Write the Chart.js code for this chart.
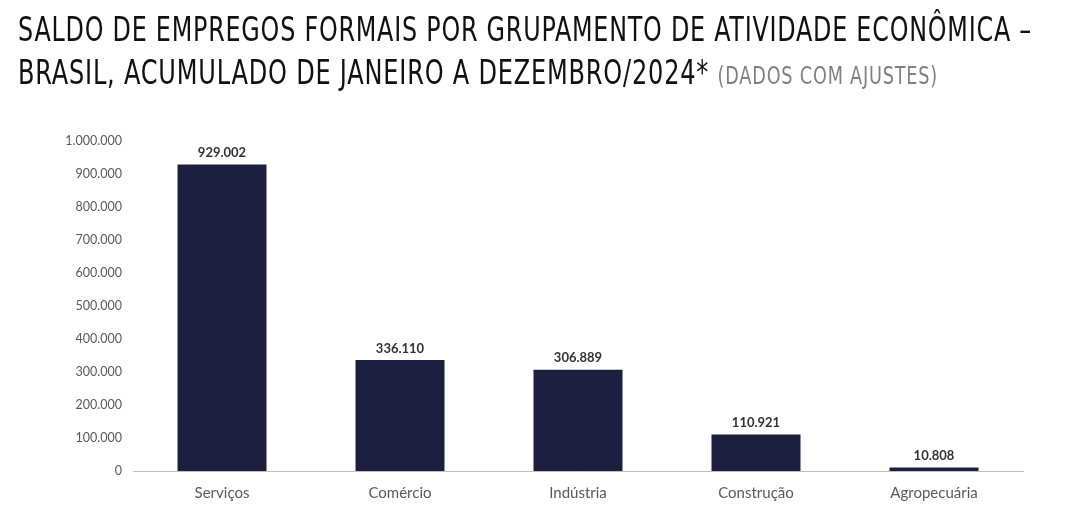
<!DOCTYPE html>
<html><head><meta charset="utf-8">
<script src="https://cdn.jsdelivr.net/npm/chart.js@4"></script>
<style>
html,body{margin:0;padding:0;background:#fff;width:1085px;height:517px;overflow:hidden}
.tl{position:absolute;left:18px;font-family:"DejaVu Sans Condensed","DejaVu Sans",sans-serif;font-size:34px;line-height:34px;color:#111;letter-spacing:1px;white-space:nowrap;transform-origin:0 0}
#t1{top:12px}
#t2{top:55px}
.sub{color:#808080;font-size:25px;letter-spacing:1px}
#wrap{position:absolute;left:0;top:0;width:1085px;height:517px}
</style></head><body>
<div id="wrap"><canvas id="c" width="1085" height="517"></canvas></div>
<div class="tl" id="t1">SALDO DE EMPREGOS FORMAIS POR GRUPAMENTO DE ATIVIDADE ECONÔMICA –</div>
<div class="tl" id="t2">BRASIL, ACUMULADO DE JANEIRO A DEZEMBRO/2024* <span class="sub">(DADOS COM AJUSTES)</span></div>
<script>
const categories = ["Serviços","Comércio","Indústria","Construção","Agropecuária"];
const saldo = [929002, 336110, 306889, 110921, 10808];
const yTicks = [0,100000,200000,300000,400000,500000,600000,700000,800000,900000,1000000];

function fitLine(id, target){
  const el=document.getElementById(id);
  const w=el.getBoundingClientRect().width;
  el.style.transform='scaleX('+(target/w)+')';
}
fitLine('t1',1014);
fitLine('t2',920);

const fmt = v => v.toLocaleString('de-DE');
const labelPlugin = {
  id:'vals',
  afterDatasetsDraw(chart){
    const ctx = chart.ctx;
    const meta = chart.getDatasetMeta(0);
    ctx.save();
    ctx.font = 'bold 13px Lato, sans-serif';
    ctx.fillStyle = '#333';
    ctx.textAlign = 'center';
    ctx.textBaseline = 'bottom';
    meta.data.forEach((bar,i)=>{
      ctx.fillText(fmt(saldo[i]), bar.x, bar.y - 5);
    });
    ctx.restore();
  }
};
new Chart(document.getElementById('c'),{
  type:'bar',
  data:{labels:categories,datasets:[{data:saldo,backgroundColor:'#1d1f40',categoryPercentage:1,barPercentage:0.5}]},
  options:{
    responsive:false,animation:false,
    layout:{padding:{top:141,right:62,left:0,bottom:0}},
    plugins:{legend:{display:false},tooltip:{enabled:false}},
    scales:{
      x:{grid:{display:false,drawTicks:false},border:{display:true,color:'#bfbfbf',width:1},
         ticks:{color:'#595959',font:{family:'Lato, sans-serif',size:15},padding:13},
         afterFit(s){s.height=46;}},
      y:{min:0,max:1000000,afterBuildTicks(s){s.ticks=yTicks.map(v=>({value:v}));},
         grid:{display:false,drawTicks:false},border:{display:false},
         ticks:{color:'#595959',font:{family:'Lato, sans-serif',size:12.5},padding:11,callback:v=>fmt(v)},
         afterFit(s){s.width=133;}}
    }
  },
  plugins:[labelPlugin]
});
</script>
</body></html>
